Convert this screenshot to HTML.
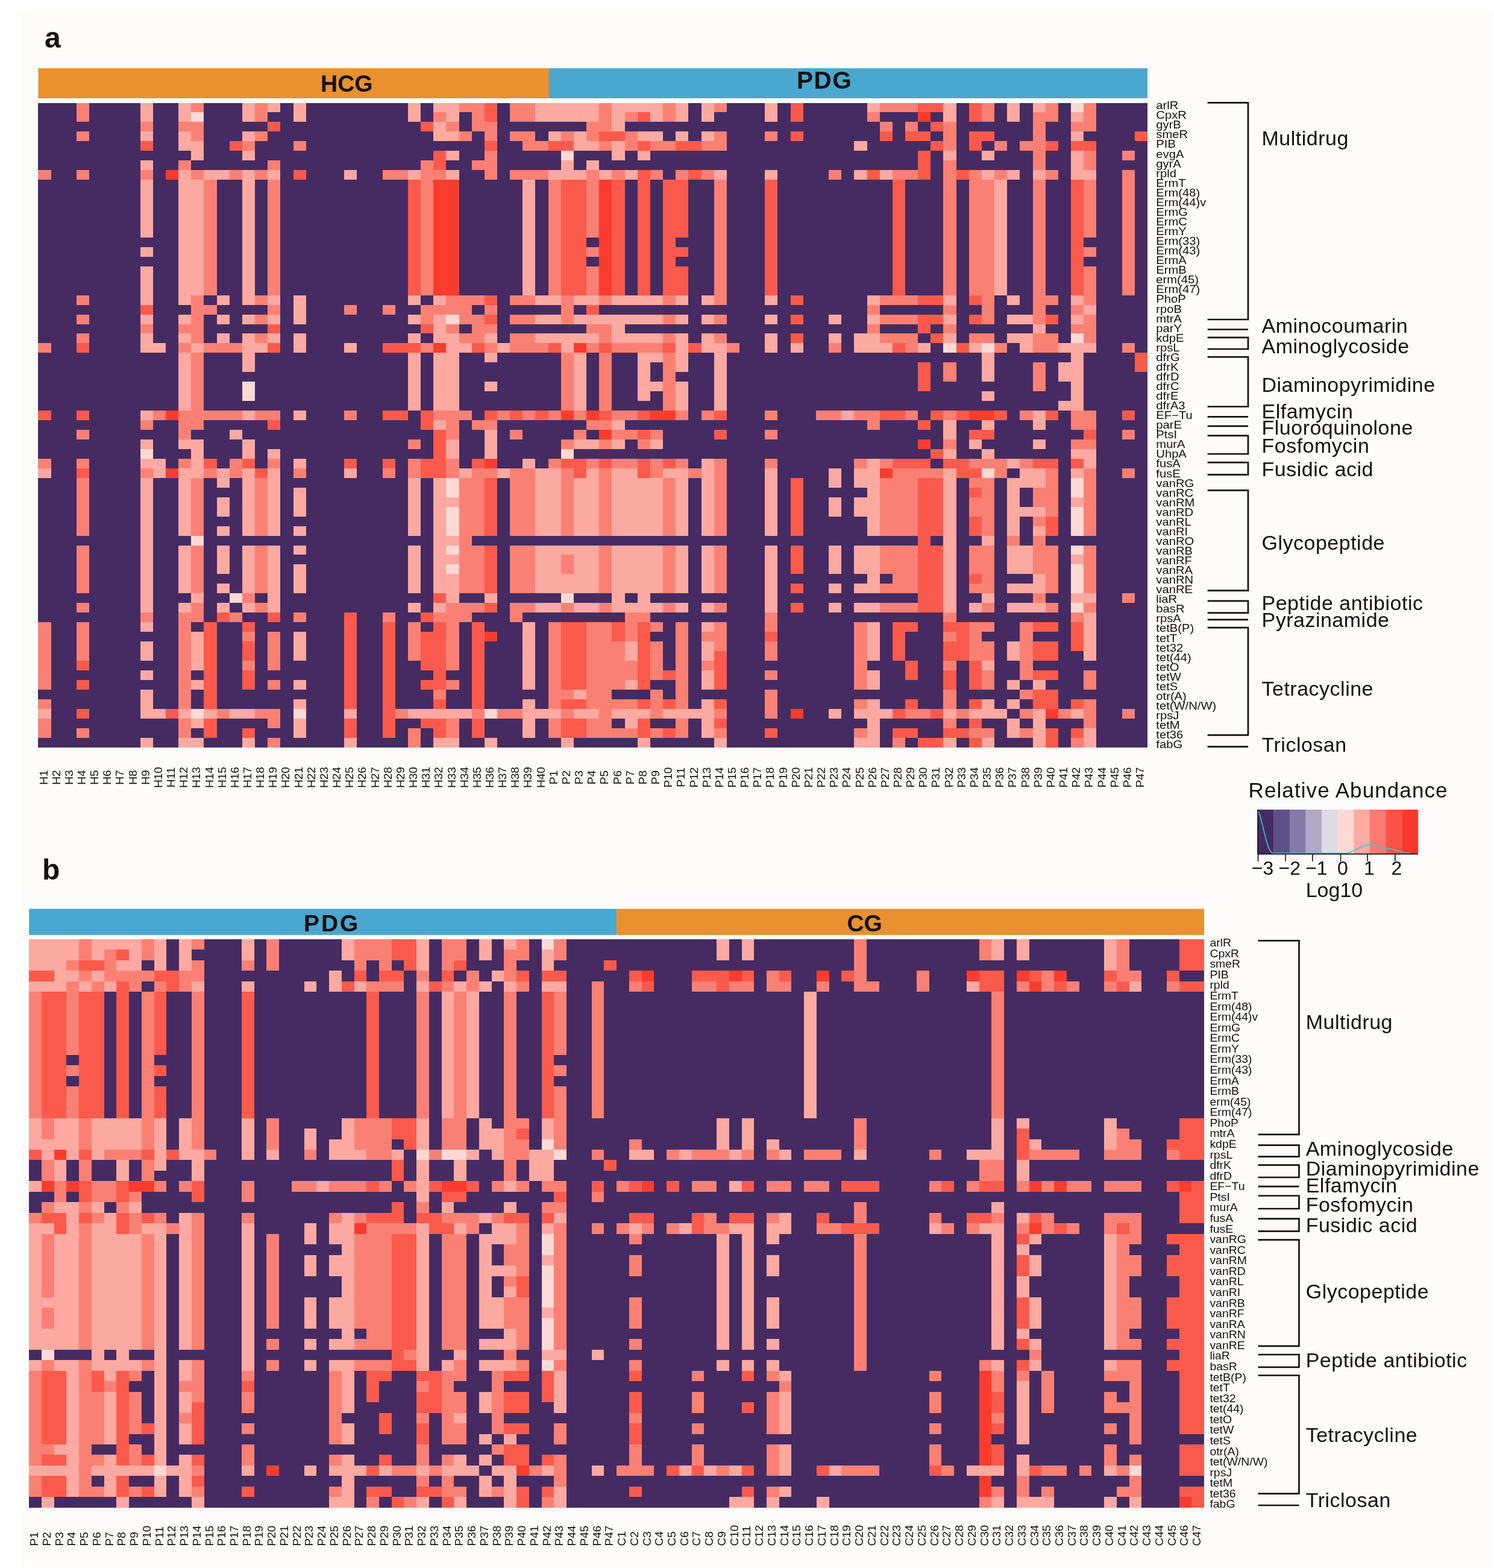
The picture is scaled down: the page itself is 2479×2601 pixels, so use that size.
<!DOCTYPE html><html><head><meta charset="utf-8"><title>Heatmap</title><style>html,body{margin:0;padding:0;background:#fff;}svg{display:block;}text{font-family:"Liberation Sans",Arial,sans-serif;fill:#141010;}</style></head><body>
<svg xmlns="http://www.w3.org/2000/svg" width="2479" height="2601" viewBox="0 0 2479 2601">
<rect width="2479" height="2601" fill="#ffffff"/>
<rect x="36" y="18.7" width="2439" height="2582" fill="#fdfcfa"/>
<text x="74" y="79" style="font-size:48px;font-weight:bold">a</text>
<rect x="63.4" y="113.2" width="847.6" height="49.8" fill="#e8912e"/>
<rect x="911.0" y="113.2" width="993.0" height="49.8" fill="#4aa7cf"/>
<text x="532" y="152" style="font-size:39px;font-weight:bold">HCG</text>
<text x="1322" y="147.2" style="font-size:40.5px;font-weight:bold;letter-spacing:1.5px">PDG</text>
<g transform="translate(63.40,170.50) scale(21.15632,15.95672)" shape-rendering="crispEdges">
<rect width="87" height="67" fill="#452b62"/>
<path fill="#fdd9d5" d="M8 36h1v1h-1zM12 1h1v1h-1zM12 45h1v1h-1zM12 63h1v1h-1zM15 51h1v1h-1zM16 29h1v2h-1zM20 63h1v1h-1zM32 22h1v1h-1zM32 39h1v2h-1zM32 42h1v3h-1zM32 46h1v1h-1zM32 48h1v1h-1zM35 63h1v1h-1zM41 5h1v1h-1zM41 36h1v1h-1zM41 51h1v1h-1zM71 25h1v1h-1zM74 25h1v1h-1zM74 38h1v1h-1zM81 0h1v1h-1zM81 24h1v1h-1zM81 39h1v2h-1zM81 42h1v3h-1zM81 46h1v1h-1zM81 48h1v3h-1zM81 52h1v1h-1z"/>
<path fill="#fca9a1" d="M0 38h1v1h-1zM0 63h1v1h-1zM8 0h1v2h-1zM8 3h1v1h-1zM8 6h1v1h-1zM8 8h1v6h-1zM8 15h1v1h-1zM8 17h1v4h-1zM8 22h1v1h-1zM8 24h1v2h-1zM8 32h1v1h-1zM8 35h1v1h-1zM8 37h1v1h-1zM8 39h1v14h-1zM8 54h1v1h-1zM8 56h1v2h-1zM8 59h1v1h-1zM8 61h1v3h-1zM8 66h1v1h-1zM9 25h1v1h-1zM9 37h1v2h-1zM9 63h1v1h-1zM11 0h1v2h-1zM11 3h1v2h-1zM11 7h1v14h-1zM11 22h1v1h-1zM11 24h1v1h-1zM11 26h1v6h-1zM11 35h1v1h-1zM11 38h1v7h-1zM11 46h1v5h-1zM11 52h1v1h-1zM11 63h1v1h-1zM11 66h1v1h-1zM12 4h1v2h-1zM12 8h1v12h-1zM12 25h1v1h-1zM12 35h1v4h-1zM12 51h1v1h-1zM12 55h1v4h-1zM12 60h1v1h-1zM12 64h1v1h-1zM12 66h1v1h-1zM13 7h1v1h-1zM13 63h1v1h-1zM14 7h1v1h-1zM14 20h1v1h-1zM14 22h1v1h-1zM14 24h1v1h-1zM14 38h1v2h-1zM14 41h1v2h-1zM14 44h1v1h-1zM14 46h1v3h-1zM14 50h1v1h-1zM14 52h1v1h-1zM15 34h1v1h-1zM15 63h1v1h-1zM16 0h1v2h-1zM16 3h1v1h-1zM16 5h1v1h-1zM16 7h1v14h-1zM16 22h1v1h-1zM16 24h1v4h-1zM16 32h1v1h-1zM16 35h1v2h-1zM16 38h1v7h-1zM16 46h1v5h-1zM16 52h1v1h-1zM16 63h1v1h-1zM16 66h1v1h-1zM17 25h1v1h-1zM18 0h1v1h-1zM18 7h1v1h-1zM18 20h1v1h-1zM18 22h1v1h-1zM18 24h1v1h-1zM18 36h1v1h-1zM18 38h1v7h-1zM18 46h1v7h-1zM20 0h1v2h-1zM20 20h1v3h-1zM20 24h1v2h-1zM20 32h1v1h-1zM20 37h1v1h-1zM20 40h1v3h-1zM20 44h1v1h-1zM20 46h1v1h-1zM20 48h1v3h-1zM20 55h1v3h-1zM20 60h1v1h-1zM20 62h1v1h-1zM20 64h1v2h-1zM24 7h1v1h-1zM24 25h1v1h-1zM24 38h1v1h-1zM24 63h1v1h-1zM24 66h1v1h-1zM29 0h1v2h-1zM29 7h1v1h-1zM29 20h1v1h-1zM29 22h1v1h-1zM29 24h1v1h-1zM29 26h1v6h-1zM29 39h1v6h-1zM29 46h1v5h-1zM29 52h1v1h-1zM29 63h1v1h-1zM30 63h1v1h-1zM31 0h1v1h-1zM31 2h1v2h-1zM31 20h1v1h-1zM31 22h1v3h-1zM31 26h1v6h-1zM31 33h1v1h-1zM31 39h1v12h-1zM31 52h1v1h-1zM31 63h1v1h-1zM31 66h1v1h-1zM32 0h1v2h-1zM32 3h1v1h-1zM32 5h1v1h-1zM32 7h1v1h-1zM32 24h1v8h-1zM32 35h1v2h-1zM32 41h1v1h-1zM32 45h1v1h-1zM32 47h1v1h-1zM32 49h1v3h-1zM32 63h1v1h-1zM32 66h1v1h-1zM33 25h1v1h-1zM33 38h1v1h-1zM33 63h1v1h-1zM35 24h1v1h-1zM35 26h1v1h-1zM35 29h1v1h-1zM35 34h1v3h-1zM35 51h1v1h-1zM35 66h1v1h-1zM36 25h1v1h-1zM36 38h1v1h-1zM38 8h1v12h-1zM38 37h1v1h-1zM38 54h1v7h-1zM38 62h1v4h-1zM39 0h1v2h-1zM39 20h1v1h-1zM39 22h1v1h-1zM39 24h1v1h-1zM39 38h1v7h-1zM39 46h1v5h-1zM39 52h1v1h-1zM39 63h1v1h-1zM40 0h1v2h-1zM40 3h1v1h-1zM40 7h1v1h-1zM40 20h1v1h-1zM40 22h1v1h-1zM40 24h1v1h-1zM40 38h1v7h-1zM40 46h1v5h-1zM40 52h1v1h-1zM40 63h1v1h-1zM41 0h1v2h-1zM41 6h1v2h-1zM41 24h1v2h-1zM41 46h1v1h-1zM41 49h1v2h-1zM41 66h1v1h-1zM42 0h1v2h-1zM42 3h1v2h-1zM42 7h1v1h-1zM42 20h1v1h-1zM42 22h1v1h-1zM42 24h1v1h-1zM42 26h1v6h-1zM42 35h1v1h-1zM42 39h1v6h-1zM42 46h1v5h-1zM42 52h1v1h-1zM42 61h1v1h-1zM42 63h1v1h-1zM43 0h1v2h-1zM43 4h1v1h-1zM43 6h1v1h-1zM43 20h1v1h-1zM43 22h1v1h-1zM43 24h1v1h-1zM43 35h1v1h-1zM43 38h1v7h-1zM43 46h1v5h-1zM43 52h1v1h-1zM43 63h1v1h-1zM44 7h1v1h-1zM44 22h1v1h-1zM45 0h1v3h-1zM45 4h1v2h-1zM45 20h1v1h-1zM45 22h1v3h-1zM45 33h1v1h-1zM45 35h1v1h-1zM45 38h1v7h-1zM45 46h1v7h-1zM45 63h1v1h-1zM46 0h1v1h-1zM46 7h1v1h-1zM46 20h1v1h-1zM46 22h1v1h-1zM46 24h1v1h-1zM46 38h1v7h-1zM46 46h1v5h-1zM46 52h1v1h-1zM46 56h1v2h-1zM46 60h1v1h-1zM46 63h1v2h-1zM47 0h1v1h-1zM47 3h1v1h-1zM47 5h1v1h-1zM47 20h1v1h-1zM47 22h1v1h-1zM47 24h1v1h-1zM47 26h1v5h-1zM47 39h1v6h-1zM47 46h1v7h-1zM47 63h1v1h-1zM47 66h1v1h-1zM48 0h1v2h-1zM48 3h1v1h-1zM48 20h1v1h-1zM48 22h1v1h-1zM48 24h1v1h-1zM48 26h1v1h-1zM48 29h1v1h-1zM48 35h1v1h-1zM48 39h1v6h-1zM48 46h1v5h-1zM48 52h1v1h-1zM49 38h1v1h-1zM49 63h1v1h-1zM50 0h1v2h-1zM50 3h1v1h-1zM50 20h1v1h-1zM50 22h1v1h-1zM50 24h1v4h-1zM50 29h1v3h-1zM50 38h1v7h-1zM50 46h1v5h-1zM50 52h1v1h-1zM50 63h1v1h-1zM51 63h1v1h-1zM52 0h1v2h-1zM52 3h1v1h-1zM52 20h1v1h-1zM52 22h1v1h-1zM52 24h1v2h-1zM52 37h1v8h-1zM52 46h1v5h-1zM52 52h1v1h-1zM52 54h1v1h-1zM52 56h1v2h-1zM52 59h1v2h-1zM52 62h1v4h-1zM53 7h1v1h-1zM53 25h1v7h-1zM53 66h1v1h-1zM57 0h1v2h-1zM57 7h1v1h-1zM57 20h1v1h-1zM57 22h1v1h-1zM57 24h1v2h-1zM57 38h1v7h-1zM57 46h1v7h-1zM59 25h1v1h-1zM62 22h1v1h-1zM62 24h1v1h-1zM62 38h1v2h-1zM62 41h1v2h-1zM62 46h1v3h-1zM62 50h1v1h-1zM62 52h1v1h-1zM62 63h1v1h-1zM63 32h1v1h-1zM64 4h1v1h-1zM64 7h1v1h-1zM64 24h1v2h-1zM64 38h1v2h-1zM64 41h1v2h-1zM64 46h1v3h-1zM64 50h1v1h-1zM64 52h1v1h-1zM64 63h1v1h-1zM64 66h1v1h-1zM65 0h1v1h-1zM65 20h1v1h-1zM65 22h1v1h-1zM65 24h1v2h-1zM65 37h1v8h-1zM65 46h1v5h-1zM65 52h1v1h-1zM65 54h1v4h-1zM65 59h1v2h-1zM65 62h1v5h-1zM66 7h1v1h-1zM66 25h1v1h-1zM66 63h1v1h-1zM69 25h1v1h-1zM71 0h1v2h-1zM71 5h1v1h-1zM71 20h1v1h-1zM71 22h1v1h-1zM71 24h1v1h-1zM71 33h1v2h-1zM71 36h1v1h-1zM71 38h1v15h-1zM71 63h1v1h-1zM71 66h1v1h-1zM73 25h1v1h-1zM73 35h1v1h-1zM73 52h1v1h-1zM73 63h1v1h-1zM74 5h1v1h-1zM74 7h1v1h-1zM74 26h1v3h-1zM74 30h1v1h-1zM74 33h1v1h-1zM74 36h1v1h-1zM74 45h1v1h-1zM74 51h1v1h-1zM74 58h1v1h-1zM74 62h1v2h-1zM74 66h1v1h-1zM75 8h1v12h-1zM75 63h1v1h-1zM76 0h1v2h-1zM76 7h1v1h-1zM76 20h1v1h-1zM76 22h1v1h-1zM76 24h1v1h-1zM76 37h1v1h-1zM76 39h1v6h-1zM76 46h1v3h-1zM76 50h1v1h-1zM76 52h1v1h-1zM76 56h1v2h-1zM76 60h1v1h-1zM76 62h1v1h-1zM76 64h1v2h-1zM77 22h1v1h-1zM77 24h1v2h-1zM77 38h1v2h-1zM77 42h1v1h-1zM77 46h1v3h-1zM77 50h1v1h-1zM77 52h1v1h-1zM78 0h1v1h-1zM78 7h1v1h-1zM78 23h1v1h-1zM78 32h1v2h-1zM78 35h1v1h-1zM78 38h1v2h-1zM78 42h1v1h-1zM78 44h1v1h-1zM78 49h1v2h-1zM78 52h1v1h-1zM78 60h1v1h-1zM78 63h1v4h-1zM80 25h1v1h-1zM80 27h1v2h-1zM80 31h1v1h-1zM81 1h1v1h-1zM81 3h1v1h-1zM81 5h1v3h-1zM81 20h1v1h-1zM81 22h1v1h-1zM81 25h1v7h-1zM81 36h1v1h-1zM81 38h1v1h-1zM81 41h1v1h-1zM81 47h1v1h-1zM81 51h1v1h-1zM81 63h1v1h-1zM82 7h1v1h-1zM82 21h1v1h-1zM82 25h1v1h-1zM82 36h1v2h-1zM82 51h1v1h-1zM82 53h1v5h-1zM82 65h1v2h-1z"/>
<path fill="#fb8074" d="M0 7h1v1h-1zM0 25h1v1h-1zM0 37h1v1h-1zM0 54h1v7h-1zM0 62h1v1h-1zM0 64h1v2h-1zM3 0h1v2h-1zM3 3h1v1h-1zM3 7h1v1h-1zM3 20h1v1h-1zM3 22h1v1h-1zM3 24h1v1h-1zM3 34h1v1h-1zM3 37h1v1h-1zM3 39h1v6h-1zM3 46h1v5h-1zM3 52h1v1h-1zM3 54h1v4h-1zM3 65h1v1h-1zM8 2h1v1h-1zM8 7h1v1h-1zM8 23h1v1h-1zM8 33h1v1h-1zM8 38h1v1h-1zM8 53h1v1h-1zM9 32h1v1h-1zM11 2h1v1h-1zM11 6h1v1h-1zM11 23h1v1h-1zM11 25h1v1h-1zM11 32h1v3h-1zM11 37h1v1h-1zM11 53h1v10h-1zM11 64h1v2h-1zM12 0h1v1h-1zM12 2h1v2h-1zM12 7h1v1h-1zM12 20h1v5h-1zM12 26h1v8h-1zM12 39h1v6h-1zM12 46h1v5h-1zM12 52h1v2h-1zM13 8h1v12h-1zM13 21h1v1h-1zM13 25h1v1h-1zM13 32h1v1h-1zM13 38h1v1h-1zM14 25h1v1h-1zM14 32h1v1h-1zM14 63h1v1h-1zM15 7h1v1h-1zM15 25h1v1h-1zM15 32h1v1h-1zM15 37h1v2h-1zM15 53h1v1h-1zM16 4h1v1h-1zM16 51h1v1h-1zM16 55h1v1h-1zM16 58h1v1h-1zM17 0h1v2h-1zM17 3h1v1h-1zM17 7h1v1h-1zM17 20h1v1h-1zM17 22h1v1h-1zM17 24h1v1h-1zM17 32h1v1h-1zM17 39h1v6h-1zM17 46h1v5h-1zM17 52h1v1h-1zM17 63h1v1h-1zM18 6h1v1h-1zM18 8h1v12h-1zM18 21h1v1h-1zM18 32h1v1h-1zM18 37h1v1h-1zM18 55h1v4h-1zM18 60h1v1h-1zM18 63h1v2h-1zM18 66h1v1h-1zM20 4h1v1h-1zM20 38h1v1h-1zM20 53h1v1h-1zM24 21h1v1h-1zM24 32h1v1h-1zM27 7h1v1h-1zM27 21h1v1h-1zM27 38h1v1h-1zM27 53h1v1h-1zM28 7h1v1h-1zM28 63h1v1h-1zM29 35h1v1h-1zM29 37h1v2h-1zM29 54h1v4h-1zM29 65h1v2h-1zM30 6h1v14h-1zM30 21h1v2h-1zM30 25h1v1h-1zM31 1h1v1h-1zM31 7h1v1h-1zM31 21h1v1h-1zM31 32h1v1h-1zM31 53h1v1h-1zM31 61h1v1h-1zM32 2h1v1h-1zM32 20h1v2h-1zM32 23h1v1h-1zM32 32h1v3h-1zM32 37h1v2h-1zM32 52h1v7h-1zM32 60h1v1h-1zM32 64h1v2h-1zM33 0h1v1h-1zM33 3h1v1h-1zM33 20h1v3h-1zM33 24h1v1h-1zM33 32h1v1h-1zM33 39h1v12h-1zM33 52h1v2h-1zM34 0h1v3h-1zM34 6h1v1h-1zM34 20h1v1h-1zM34 22h1v3h-1zM34 33h1v1h-1zM34 38h1v7h-1zM34 46h1v5h-1zM34 52h1v1h-1zM34 63h1v1h-1zM35 2h1v2h-1zM35 5h1v3h-1zM35 21h1v1h-1zM35 23h1v1h-1zM35 25h1v1h-1zM35 33h1v1h-1zM35 38h1v1h-1zM36 32h1v1h-1zM36 63h1v1h-1zM37 0h1v2h-1zM37 3h1v1h-1zM37 7h1v1h-1zM37 20h1v1h-1zM37 22h1v1h-1zM37 24h1v2h-1zM37 34h1v1h-1zM37 38h1v7h-1zM37 46h1v5h-1zM37 52h1v2h-1zM37 63h1v1h-1zM38 0h1v2h-1zM38 3h1v2h-1zM38 7h1v1h-1zM38 20h1v1h-1zM38 22h1v1h-1zM38 24h1v2h-1zM38 32h1v1h-1zM38 38h1v7h-1zM38 46h1v5h-1zM38 52h1v1h-1zM39 4h1v1h-1zM39 7h1v1h-1zM39 25h1v1h-1zM40 8h1v12h-1zM40 32h1v1h-1zM40 37h1v1h-1zM40 54h1v9h-1zM40 64h1v2h-1zM41 3h1v1h-1zM41 20h1v3h-1zM41 26h1v6h-1zM41 35h1v1h-1zM41 38h1v7h-1zM41 47h1v2h-1zM41 52h1v1h-1zM41 61h1v1h-1zM41 63h1v1h-1zM42 32h1v1h-1zM42 34h1v1h-1zM43 2h1v2h-1zM43 7h1v7h-1zM43 15h1v1h-1zM43 17h1v3h-1zM43 23h1v1h-1zM43 25h1v1h-1zM43 33h1v1h-1zM43 37h1v1h-1zM43 54h1v9h-1zM43 64h1v2h-1zM44 0h1v3h-1zM44 4h1v1h-1zM44 20h1v1h-1zM44 23h1v2h-1zM44 26h1v6h-1zM44 33h1v1h-1zM44 35h1v1h-1zM44 38h1v7h-1zM44 46h1v5h-1zM44 52h1v1h-1zM44 54h1v12h-1zM45 7h1v1h-1zM45 25h1v1h-1zM45 32h1v1h-1zM45 34h1v1h-1zM45 37h1v1h-1zM45 56h1v5h-1zM45 62h1v1h-1zM45 65h1v1h-1zM46 1h1v1h-1zM46 3h1v2h-1zM46 25h1v1h-1zM46 32h1v1h-1zM46 34h1v1h-1zM46 37h1v1h-1zM46 53h1v3h-1zM46 58h1v2h-1zM46 62h1v1h-1zM46 65h1v1h-1zM47 25h1v1h-1zM47 35h1v1h-1zM47 53h1v1h-1zM48 4h1v1h-1zM48 7h1v1h-1zM48 25h1v1h-1zM48 34h1v1h-1zM48 37h1v2h-1zM48 54h1v1h-1zM48 56h1v4h-1zM48 61h1v3h-1zM48 65h1v1h-1zM49 0h1v2h-1zM49 4h1v1h-1zM49 20h1v1h-1zM49 22h1v1h-1zM49 24h1v1h-1zM49 26h1v6h-1zM49 39h1v6h-1zM49 46h1v5h-1zM49 52h1v1h-1zM50 7h1v1h-1zM50 32h1v1h-1zM50 37h1v1h-1zM50 54h1v9h-1zM50 64h1v2h-1zM51 38h1v1h-1zM52 4h1v1h-1zM52 7h1v1h-1zM52 32h1v1h-1zM52 55h1v1h-1zM52 58h1v1h-1zM53 0h1v1h-1zM53 3h1v2h-1zM53 8h1v13h-1zM53 22h1v1h-1zM53 24h1v1h-1zM53 37h1v8h-1zM53 46h1v5h-1zM53 52h1v1h-1zM53 54h1v3h-1zM53 63h1v1h-1zM53 65h1v1h-1zM54 25h1v1h-1zM57 3h1v1h-1zM57 32h1v1h-1zM57 34h1v1h-1zM57 37h1v1h-1zM57 53h1v2h-1zM57 56h1v2h-1zM57 59h1v1h-1zM57 61h1v3h-1zM61 32h1v1h-1zM62 7h1v1h-1zM62 25h1v1h-1zM62 32h1v1h-1zM64 32h1v1h-1zM64 37h1v1h-1zM64 54h1v7h-1zM64 62h1v1h-1zM64 65h1v1h-1zM65 1h1v1h-1zM65 21h1v1h-1zM65 23h1v1h-1zM65 32h1v2h-1zM66 0h1v1h-1zM66 2h1v1h-1zM66 20h1v1h-1zM66 22h1v1h-1zM66 24h1v1h-1zM66 37h1v1h-1zM66 39h1v6h-1zM66 46h1v3h-1zM66 50h1v1h-1zM66 52h1v1h-1zM67 0h1v1h-1zM67 7h1v1h-1zM67 20h1v1h-1zM67 22h1v1h-1zM67 24h1v1h-1zM67 38h1v7h-1zM67 46h1v5h-1zM67 52h1v1h-1zM67 66h1v1h-1zM68 0h1v1h-1zM68 2h1v1h-1zM68 7h1v1h-1zM68 20h1v1h-1zM68 22h1v1h-1zM68 24h1v2h-1zM68 32h1v1h-1zM68 38h1v7h-1zM68 46h1v5h-1zM68 52h1v1h-1zM68 63h1v1h-1zM69 38h1v1h-1zM69 63h1v1h-1zM70 38h1v1h-1zM71 2h1v3h-1zM71 6h1v14h-1zM71 21h1v1h-1zM71 23h1v1h-1zM71 27h1v2h-1zM71 32h1v1h-1zM71 35h1v1h-1zM71 53h1v1h-1zM71 55h1v1h-1zM71 58h1v1h-1zM71 61h1v2h-1zM71 64h1v1h-1zM72 63h1v1h-1zM73 7h1v13h-1zM73 24h1v1h-1zM73 37h1v1h-1zM73 39h1v1h-1zM73 41h1v2h-1zM73 46h1v3h-1zM73 50h1v1h-1zM73 54h1v4h-1zM73 65h1v1h-1zM74 0h1v2h-1zM74 8h1v15h-1zM74 24h1v1h-1zM74 37h1v1h-1zM74 39h1v6h-1zM74 46h1v5h-1zM74 52h1v1h-1zM74 54h1v1h-1zM74 56h1v2h-1zM74 59h1v2h-1zM74 65h1v1h-1zM75 4h1v1h-1zM75 7h1v1h-1zM75 25h1v1h-1zM75 37h1v2h-1zM76 45h1v1h-1zM77 4h1v1h-1zM77 32h1v1h-1zM77 37h1v1h-1zM77 54h1v6h-1zM77 61h1v1h-1zM77 63h1v1h-1zM77 65h1v1h-1zM78 1h1v6h-1zM78 8h1v15h-1zM78 24h1v2h-1zM78 27h1v3h-1zM78 40h1v2h-1zM78 43h1v1h-1zM78 45h1v4h-1zM78 51h1v1h-1zM79 0h1v2h-1zM79 7h1v1h-1zM79 20h1v1h-1zM79 24h1v2h-1zM79 38h1v5h-1zM79 46h1v5h-1zM79 52h1v1h-1zM80 63h1v1h-1zM81 2h1v1h-1zM81 21h1v1h-1zM81 23h1v1h-1zM81 32h1v2h-1zM81 35h1v1h-1zM81 53h1v1h-1zM81 66h1v1h-1zM82 0h1v3h-1zM82 5h1v2h-1zM82 8h1v6h-1zM82 15h1v1h-1zM82 17h1v4h-1zM82 22h1v3h-1zM82 32h1v2h-1zM82 35h1v1h-1zM82 38h1v7h-1zM82 46h1v5h-1zM82 52h1v1h-1zM82 59h1v2h-1zM82 62h1v3h-1zM85 5h1v1h-1zM85 7h1v13h-1zM85 25h1v1h-1zM85 34h1v1h-1zM85 38h1v1h-1zM85 51h1v1h-1zM85 63h1v1h-1z"/>
<path fill="#fa5a4b" d="M0 32h1v1h-1zM3 25h1v1h-1zM3 32h1v1h-1zM3 38h1v1h-1zM3 58h1v1h-1zM3 60h1v1h-1zM3 63h1v1h-1zM8 4h1v1h-1zM8 21h1v1h-1zM10 63h1v1h-1zM13 37h1v1h-1zM13 54h1v9h-1zM13 64h1v2h-1zM14 53h1v1h-1zM15 4h1v1h-1zM16 37h1v1h-1zM16 54h1v1h-1zM16 56h1v2h-1zM16 59h1v2h-1zM16 65h1v1h-1zM17 38h1v1h-1zM18 2h1v1h-1zM18 23h1v1h-1zM18 25h1v1h-1zM18 33h1v1h-1zM18 53h1v1h-1zM20 7h1v1h-1zM24 37h1v1h-1zM24 53h1v10h-1zM24 64h1v2h-1zM27 25h1v1h-1zM27 32h1v1h-1zM27 37h1v1h-1zM27 54h1v12h-1zM28 25h1v1h-1zM28 32h1v1h-1zM29 8h1v12h-1zM29 25h1v1h-1zM30 2h1v1h-1zM30 23h1v1h-1zM30 32h1v2h-1zM30 37h1v2h-1zM30 53h1v1h-1zM30 55h1v4h-1zM30 60h1v1h-1zM30 64h1v1h-1zM31 5h1v2h-1zM31 34h1v5h-1zM31 51h1v1h-1zM31 54h1v7h-1zM31 62h1v1h-1zM31 64h1v2h-1zM34 25h1v1h-1zM34 37h1v1h-1zM34 54h1v9h-1zM34 64h1v2h-1zM35 0h1v2h-1zM35 4h1v1h-1zM35 20h1v1h-1zM35 22h1v1h-1zM35 32h1v1h-1zM35 39h1v6h-1zM35 46h1v5h-1zM35 52h1v1h-1zM37 32h1v1h-1zM39 32h1v1h-1zM40 4h1v1h-1zM40 25h1v1h-1zM41 4h1v1h-1zM41 8h1v12h-1zM41 37h1v1h-1zM41 54h1v7h-1zM41 62h1v1h-1zM41 64h1v2h-1zM42 8h1v12h-1zM42 37h1v2h-1zM42 54h1v7h-1zM42 62h1v1h-1zM42 64h1v2h-1zM43 21h1v1h-1zM44 3h1v1h-1zM44 25h1v1h-1zM44 32h1v1h-1zM44 37h1v1h-1zM45 3h1v1h-1zM45 8h1v12h-1zM45 54h1v2h-1zM47 1h1v1h-1zM47 4h1v1h-1zM47 7h1v13h-1zM47 32h1v1h-1zM47 34h1v1h-1zM47 37h1v2h-1zM47 54h1v7h-1zM47 62h1v1h-1zM47 64h1v2h-1zM49 8h1v12h-1zM49 25h1v1h-1zM49 37h1v1h-1zM49 59h1v1h-1zM49 62h1v1h-1zM49 65h1v1h-1zM50 4h1v1h-1zM50 8h1v6h-1zM50 15h1v1h-1zM50 17h1v3h-1zM51 4h1v1h-1zM51 7h1v1h-1zM51 25h1v1h-1zM53 32h1v1h-1zM53 34h1v1h-1zM53 57h1v4h-1zM53 62h1v1h-1zM53 64h1v1h-1zM57 8h1v12h-1zM57 55h1v1h-1zM57 65h1v1h-1zM59 0h1v2h-1zM59 3h1v1h-1zM59 20h1v1h-1zM59 22h1v1h-1zM59 24h1v1h-1zM59 39h1v6h-1zM59 46h1v3h-1zM59 50h1v1h-1zM59 52h1v1h-1zM65 7h1v1h-1zM66 3h1v1h-1zM66 32h1v1h-1zM67 8h1v12h-1zM67 25h1v1h-1zM67 32h1v1h-1zM67 37h1v1h-1zM67 54h1v4h-1zM67 63h1v1h-1zM67 65h1v1h-1zM68 3h1v1h-1zM68 37h1v1h-1zM68 54h1v1h-1zM68 58h1v2h-1zM68 62h1v1h-1zM68 65h1v1h-1zM69 0h1v1h-1zM69 3h1v1h-1zM69 5h1v3h-1zM69 20h1v1h-1zM69 22h1v2h-1zM69 27h1v3h-1zM69 33h1v1h-1zM69 37h1v1h-1zM69 39h1v14h-1zM69 66h1v1h-1zM70 0h1v1h-1zM70 2h1v1h-1zM70 4h1v1h-1zM70 20h1v1h-1zM70 22h1v1h-1zM70 24h1v1h-1zM70 32h1v1h-1zM70 36h1v1h-1zM70 39h1v6h-1zM70 46h1v7h-1zM70 63h1v1h-1zM70 66h1v1h-1zM71 37h1v1h-1zM71 54h1v1h-1zM71 56h1v2h-1zM71 59h1v2h-1zM71 65h1v1h-1zM72 7h1v1h-1zM72 25h1v1h-1zM72 32h1v1h-1zM72 37h1v2h-1zM72 54h1v4h-1zM72 65h1v1h-1zM73 0h1v2h-1zM73 3h1v2h-1zM73 20h1v1h-1zM73 22h1v1h-1zM73 34h1v1h-1zM73 38h1v1h-1zM73 40h1v1h-1zM73 43h1v2h-1zM73 49h1v1h-1zM73 58h1v3h-1zM73 62h1v1h-1zM73 64h1v1h-1zM73 66h1v1h-1zM74 3h1v1h-1zM74 34h1v1h-1zM75 32h1v1h-1zM78 37h1v1h-1zM78 54h1v1h-1zM78 56h1v2h-1zM78 59h1v1h-1zM78 61h1v2h-1zM79 4h1v1h-1zM79 22h1v1h-1zM79 32h1v1h-1zM79 37h1v1h-1zM79 43h1v2h-1zM79 54h1v1h-1zM79 56h1v2h-1zM79 59h1v1h-1zM79 61h1v2h-1zM79 65h1v2h-1zM81 4h1v1h-1zM81 8h1v12h-1zM81 37h1v1h-1zM81 54h1v3h-1zM81 62h1v1h-1zM81 65h1v1h-1zM82 4h1v1h-1zM82 34h1v1h-1zM85 32h1v1h-1zM86 3h1v1h-1zM86 26h1v2h-1z"/>
<path fill="#f93c2d" d="M10 7h1v1h-1zM10 32h1v1h-1zM10 38h1v1h-1zM31 8h1v12h-1zM31 25h1v1h-1zM32 8h1v12h-1zM35 37h1v1h-1zM35 55h1v1h-1zM41 32h1v1h-1zM42 25h1v1h-1zM43 32h1v1h-1zM44 8h1v12h-1zM44 34h1v1h-1zM48 32h1v1h-1zM49 32h1v1h-1zM59 63h1v1h-1zM66 38h1v1h-1zM69 1h1v1h-1zM69 35h1v1h-1zM73 32h1v1h-1zM74 32h1v1h-1zM79 63h1v1h-1z"/>
</g>
<g transform="translate(1918.3,0) scale(1.130,1)" style="font-size:17.9px"><text x="0" y="181.3">arlR</text><text x="0" y="197.4">CpxR</text><text x="0" y="213.4">gyrB</text><text x="0" y="229.5">smeR</text><text x="0" y="245.5">PIB</text><text x="0" y="261.6">evgA</text><text x="0" y="277.7">gyrA</text><text x="0" y="293.7">rpld</text><text x="0" y="309.8">ErmT</text><text x="0" y="325.8">Erm(48)</text><text x="0" y="341.9">Erm(44)v</text><text x="0" y="358.0">ErmG</text><text x="0" y="374.0">ErmC</text><text x="0" y="390.1">ErmY</text><text x="0" y="406.1">Erm(33)</text><text x="0" y="422.2">Erm(43)</text><text x="0" y="438.3">ErmA</text><text x="0" y="454.3">ErmB</text><text x="0" y="470.4">erm(45)</text><text x="0" y="486.4">Erm(47)</text><text x="0" y="502.5">PhoP</text><text x="0" y="518.6">rpoB</text><text x="0" y="534.6">mtrA</text><text x="0" y="550.7">parY</text><text x="0" y="566.7">kdpE</text><text x="0" y="582.8">rpsL</text><text x="0" y="598.9">dfrG</text><text x="0" y="614.9">dfrK</text><text x="0" y="631.0">dfrD</text><text x="0" y="647.0">dfrC</text><text x="0" y="663.1">dfrE</text><text x="0" y="679.2">dfrA3</text><text x="0" y="695.2">EF−Tu</text><text x="0" y="711.3">parE</text><text x="0" y="727.3">PtsI</text><text x="0" y="743.4">murA</text><text x="0" y="759.5">UhpA</text><text x="0" y="775.5">fusA</text><text x="0" y="791.6">fusE</text><text x="0" y="807.6">vanRG</text><text x="0" y="823.7">vanRC</text><text x="0" y="839.8">vanRM</text><text x="0" y="855.8">vanRD</text><text x="0" y="871.9">vanRL</text><text x="0" y="887.9">vanRI</text><text x="0" y="904.0">vanRO</text><text x="0" y="920.1">vanRB</text><text x="0" y="936.1">vanRF</text><text x="0" y="952.2">vanRA</text><text x="0" y="968.2">vanRN</text><text x="0" y="984.3">vanRE</text><text x="0" y="1000.4">liaR</text><text x="0" y="1016.4">basR</text><text x="0" y="1032.5">rpsA</text><text x="0" y="1048.5">tetB(P)</text><text x="0" y="1064.6">tetT</text><text x="0" y="1080.7">tet32</text><text x="0" y="1096.7">tet(44)</text><text x="0" y="1112.8">tetO</text><text x="0" y="1128.8">tetW</text><text x="0" y="1144.9">tetS</text><text x="0" y="1161.0">otr(A)</text><text x="0" y="1177.0">tet(W/N/W)</text><text x="0" y="1193.1">rpsJ</text><text x="0" y="1209.1">tetM</text><text x="0" y="1225.2">tet36</text><text x="0" y="1241.3">fabG</text></g>
<g style="font-size:19px" text-anchor="middle"><text transform="translate(78.5,1289.5) rotate(-90)">H1</text><text transform="translate(99.6,1289.5) rotate(-90)">H2</text><text transform="translate(120.8,1289.5) rotate(-90)">H3</text><text transform="translate(141.9,1289.5) rotate(-90)">H4</text><text transform="translate(163.1,1289.5) rotate(-90)">H5</text><text transform="translate(184.3,1289.5) rotate(-90)">H6</text><text transform="translate(205.4,1289.5) rotate(-90)">H7</text><text transform="translate(226.6,1289.5) rotate(-90)">H8</text><text transform="translate(247.7,1289.5) rotate(-90)">H9</text><text transform="translate(268.9,1289.5) rotate(-90)">H10</text><text transform="translate(290.0,1289.5) rotate(-90)">H11</text><text transform="translate(311.2,1289.5) rotate(-90)">H12</text><text transform="translate(332.4,1289.5) rotate(-90)">H13</text><text transform="translate(353.5,1289.5) rotate(-90)">H14</text><text transform="translate(374.7,1289.5) rotate(-90)">H15</text><text transform="translate(395.8,1289.5) rotate(-90)">H16</text><text transform="translate(417.0,1289.5) rotate(-90)">H17</text><text transform="translate(438.1,1289.5) rotate(-90)">H18</text><text transform="translate(459.3,1289.5) rotate(-90)">H19</text><text transform="translate(480.4,1289.5) rotate(-90)">H20</text><text transform="translate(501.6,1289.5) rotate(-90)">H21</text><text transform="translate(522.8,1289.5) rotate(-90)">H22</text><text transform="translate(543.9,1289.5) rotate(-90)">H23</text><text transform="translate(565.1,1289.5) rotate(-90)">H24</text><text transform="translate(586.2,1289.5) rotate(-90)">H25</text><text transform="translate(607.4,1289.5) rotate(-90)">H26</text><text transform="translate(628.5,1289.5) rotate(-90)">H27</text><text transform="translate(649.7,1289.5) rotate(-90)">H28</text><text transform="translate(670.9,1289.5) rotate(-90)">H29</text><text transform="translate(692.0,1289.5) rotate(-90)">H30</text><text transform="translate(713.2,1289.5) rotate(-90)">H31</text><text transform="translate(734.3,1289.5) rotate(-90)">H32</text><text transform="translate(755.5,1289.5) rotate(-90)">H33</text><text transform="translate(776.6,1289.5) rotate(-90)">H34</text><text transform="translate(797.8,1289.5) rotate(-90)">H35</text><text transform="translate(818.9,1289.5) rotate(-90)">H36</text><text transform="translate(840.1,1289.5) rotate(-90)">H37</text><text transform="translate(861.3,1289.5) rotate(-90)">H38</text><text transform="translate(882.4,1289.5) rotate(-90)">H39</text><text transform="translate(903.6,1289.5) rotate(-90)">H40</text><text transform="translate(924.7,1289.5) rotate(-90)">P1</text><text transform="translate(945.9,1289.5) rotate(-90)">P2</text><text transform="translate(967.0,1289.5) rotate(-90)">P3</text><text transform="translate(988.2,1289.5) rotate(-90)">P4</text><text transform="translate(1009.4,1289.5) rotate(-90)">P5</text><text transform="translate(1030.5,1289.5) rotate(-90)">P6</text><text transform="translate(1051.7,1289.5) rotate(-90)">P7</text><text transform="translate(1072.8,1289.5) rotate(-90)">P8</text><text transform="translate(1094.0,1289.5) rotate(-90)">P9</text><text transform="translate(1115.1,1289.5) rotate(-90)">P10</text><text transform="translate(1136.3,1289.5) rotate(-90)">P11</text><text transform="translate(1157.5,1289.5) rotate(-90)">P12</text><text transform="translate(1178.6,1289.5) rotate(-90)">P13</text><text transform="translate(1199.8,1289.5) rotate(-90)">P14</text><text transform="translate(1220.9,1289.5) rotate(-90)">P15</text><text transform="translate(1242.1,1289.5) rotate(-90)">P16</text><text transform="translate(1263.2,1289.5) rotate(-90)">P17</text><text transform="translate(1284.4,1289.5) rotate(-90)">P18</text><text transform="translate(1305.5,1289.5) rotate(-90)">P19</text><text transform="translate(1326.7,1289.5) rotate(-90)">P20</text><text transform="translate(1347.9,1289.5) rotate(-90)">P21</text><text transform="translate(1369.0,1289.5) rotate(-90)">P22</text><text transform="translate(1390.2,1289.5) rotate(-90)">P23</text><text transform="translate(1411.3,1289.5) rotate(-90)">P24</text><text transform="translate(1432.5,1289.5) rotate(-90)">P25</text><text transform="translate(1453.6,1289.5) rotate(-90)">P26</text><text transform="translate(1474.8,1289.5) rotate(-90)">P27</text><text transform="translate(1496.0,1289.5) rotate(-90)">P28</text><text transform="translate(1517.1,1289.5) rotate(-90)">P29</text><text transform="translate(1538.3,1289.5) rotate(-90)">P30</text><text transform="translate(1559.4,1289.5) rotate(-90)">P31</text><text transform="translate(1580.6,1289.5) rotate(-90)">P32</text><text transform="translate(1601.7,1289.5) rotate(-90)">P33</text><text transform="translate(1622.9,1289.5) rotate(-90)">P34</text><text transform="translate(1644.0,1289.5) rotate(-90)">P35</text><text transform="translate(1665.2,1289.5) rotate(-90)">P36</text><text transform="translate(1686.4,1289.5) rotate(-90)">P37</text><text transform="translate(1707.5,1289.5) rotate(-90)">P38</text><text transform="translate(1728.7,1289.5) rotate(-90)">P39</text><text transform="translate(1749.8,1289.5) rotate(-90)">P40</text><text transform="translate(1771.0,1289.5) rotate(-90)">P41</text><text transform="translate(1792.1,1289.5) rotate(-90)">P42</text><text transform="translate(1813.3,1289.5) rotate(-90)">P43</text><text transform="translate(1834.5,1289.5) rotate(-90)">P44</text><text transform="translate(1855.6,1289.5) rotate(-90)">P45</text><text transform="translate(1876.8,1289.5) rotate(-90)">P46</text><text transform="translate(1897.9,1289.5) rotate(-90)">P47</text></g>
<path fill="none" stroke="#141010" stroke-width="2.7" d="M2003.7 170.3H2071.0V530.0H2003.7M2003.7 546.5H2071.0M2003.7 559.9H2071.0V579.0H2003.7M2003.7 592.2H2071.0V674.5H2003.7M2003.7 691.3H2071.0M2003.7 706.9H2071.0M2003.7 722.6H2071.0V753.0H2003.7M2003.7 767.1H2071.0V787.3H2003.7M2003.7 813.4H2071.0V979.7H2003.7M2003.7 996.8H2071.0V1016.6H2003.7M2003.7 1027.9H2071.0M2003.7 1041.2H2071.0V1219.4H2003.7M2003.7 1238.6H2071.0"/>
<g style="font-size:34px;letter-spacing:0.5px"><text x="2093.5" y="241.3">Multidrug</text><text x="2093.5" y="551.6">Aminocoumarin</text><text x="2093.5" y="586.0">Aminoglycoside</text><text x="2093.5" y="650.4">Diaminopyrimidine</text><text x="2093.5" y="694.2">Elfamycin</text><text x="2093.5" y="721.4">Fluoroquinolone</text><text x="2093.5" y="751.3">Fosfomycin</text><text x="2093.5" y="789.9">Fusidic acid</text><text x="2093.5" y="911.8">Glycopeptide</text><text x="2093.5" y="1012.1">Peptide antibiotic</text><text x="2093.5" y="1040.0">Pyrazinamide</text><text x="2093.5" y="1153.7">Tetracycline</text><text x="2093.5" y="1247.0">Triclosan</text></g>
<rect x="2086.60" y="1343.0" width="26.92" height="73.6" fill="#452b62"/>
<rect x="2113.22" y="1343.0" width="26.92" height="73.6" fill="#5c5189"/>
<rect x="2139.84" y="1343.0" width="26.92" height="73.6" fill="#8479a8"/>
<rect x="2166.46" y="1343.0" width="26.92" height="73.6" fill="#b0a8c6"/>
<rect x="2193.08" y="1343.0" width="26.92" height="73.6" fill="#dedbe7"/>
<rect x="2219.70" y="1343.0" width="26.92" height="73.6" fill="#fdd8d5"/>
<rect x="2246.32" y="1343.0" width="26.92" height="73.6" fill="#fdaaa3"/>
<rect x="2272.94" y="1343.0" width="26.92" height="73.6" fill="#fc7b70"/>
<rect x="2299.56" y="1343.0" width="26.92" height="73.6" fill="#fb5447"/>
<rect x="2326.18" y="1343.0" width="26.92" height="73.6" fill="#f93a2b"/>
<polyline fill="none" stroke="#3fc6d1" stroke-width="1.6" stroke-linejoin="round" points="2088.0,1346.2 2090.9,1352.9 2093.7,1364.4 2097.6,1379.8 2101.4,1395.1 2105.2,1406.7 2109.1,1413.4 2112.0,1415.3 2235.7,1415.3 2243.4,1412.4 2254.9,1406.7 2266.4,1401.9 2273.2,1400.9 2279.9,1401.9 2289.5,1405.7 2295.2,1406.7 2304.8,1407.6 2312.5,1409.0 2320.2,1411.5 2327.8,1414.3 2339.4,1415.3"/>
<path fill="none" stroke="#141010" stroke-width="1.6" d="M2086.6 1416.6H2352.8M2087.1 1343.0V1416.6M2087.6 1416.6V1428.7M2133.0 1416.6V1428.7M2177.8 1416.6V1428.7M2224.6 1416.6V1428.7M2269.0 1416.6V1428.7M2314.8 1416.6V1428.7"/>
<g style="font-size:32px" text-anchor="middle"><text x="2095.0" y="1450.8">−3</text><text x="2139.8" y="1450.8">−2</text><text x="2184.4" y="1450.8">−1</text><text x="2228.0" y="1450.8">0</text><text x="2272.0" y="1450.8">1</text><text x="2317.4" y="1450.8">2</text></g>
<text x="2071.5" y="1323.2" style="font-size:35px;letter-spacing:1.1px">Relative Abundance</text>
<text x="2166.7" y="1488.2" style="font-size:34px">Log10</text>
<text x="70" y="1459" style="font-size:48px;font-weight:bold">b</text>
<rect x="48.2" y="1507.6" width="974.9" height="43.3" fill="#4aa7cf"/>
<rect x="1023.1" y="1507.6" width="974.9" height="43.3" fill="#e8912e"/>
<text x="503.9" y="1545.3" style="font-size:39px;font-weight:bold;letter-spacing:3px">PDG</text>
<text x="1405.4" y="1544.9" style="font-size:39px;font-weight:bold">CG</text>
<g transform="translate(48.20,1557.70) scale(20.74255,17.46481)" shape-rendering="crispEdges">
<rect width="94" height="54" fill="#452b62"/>
<path fill="#fdd9d5" d="M1 39h1v1h-1zM10 50h1v1h-1zM31 20h1v1h-1zM33 20h1v1h-1zM34 20h1v1h-1zM41 0h1v1h-1zM41 19h1v1h-1zM41 28h1v2h-1zM41 31h1v4h-1zM41 36h1v3h-1zM41 40h1v1h-1zM42 20h1v1h-1zM88 50h1v1h-1z"/>
<path fill="#fca9a1" d="M0 0h1v3h-1zM0 4h1v1h-1zM0 17h1v3h-1zM0 23h1v1h-1zM0 27h1v12h-1zM0 40h1v1h-1zM0 50h1v1h-1zM1 0h1v3h-1zM1 4h1v1h-1zM1 19h1v2h-1zM1 27h1v1h-1zM1 34h1v1h-1zM1 37h1v2h-1zM1 50h1v1h-1zM1 53h1v1h-1zM2 0h1v5h-1zM2 17h1v3h-1zM2 21h1v2h-1zM2 25h1v1h-1zM2 28h1v11h-1zM2 40h1v1h-1zM2 48h1v1h-1zM2 50h1v1h-1zM3 0h1v2h-1zM3 3h1v1h-1zM3 17h1v4h-1zM3 25h1v14h-1zM3 40h1v13h-1zM4 4h1v1h-1zM5 0h1v2h-1zM5 3h1v1h-1zM5 17h1v4h-1zM5 25h1v1h-1zM5 27h1v14h-1zM5 50h1v1h-1zM6 0h1v1h-1zM6 4h1v1h-1zM6 17h1v3h-1zM6 26h1v13h-1zM6 40h1v2h-1zM6 43h1v5h-1zM6 49h1v4h-1zM7 0h1v1h-1zM7 2h1v1h-1zM7 17h1v3h-1zM7 21h1v2h-1zM7 28h1v13h-1zM7 50h1v1h-1zM7 53h1v1h-1zM8 0h1v3h-1zM8 17h1v3h-1zM8 25h1v1h-1zM8 28h1v11h-1zM8 40h1v1h-1zM8 50h1v1h-1zM9 27h1v1h-1zM9 50h1v1h-1zM10 0h1v3h-1zM10 17h1v5h-1zM10 27h1v23h-1zM10 51h1v2h-1zM11 50h1v1h-1zM12 0h1v3h-1zM12 17h1v4h-1zM12 26h1v13h-1zM12 40h1v2h-1zM12 43h1v2h-1zM12 46h1v2h-1zM12 49h1v4h-1zM13 4h1v1h-1zM13 20h1v3h-1zM13 53h1v1h-1zM17 0h1v2h-1zM17 4h1v1h-1zM17 17h1v4h-1zM17 27h1v14h-1zM17 50h1v1h-1zM19 20h1v1h-1zM22 4h1v1h-1zM22 18h1v2h-1zM22 27h1v2h-1zM22 30h1v2h-1zM22 34h1v3h-1zM22 38h1v1h-1zM22 40h1v1h-1zM22 50h1v1h-1zM23 23h1v1h-1zM24 3h1v2h-1zM24 19h1v2h-1zM24 27h1v2h-1zM24 30h1v2h-1zM24 34h1v3h-1zM24 38h1v1h-1zM24 40h1v1h-1zM24 50h1v1h-1zM24 53h1v1h-1zM25 0h1v2h-1zM25 17h1v4h-1zM25 26h1v13h-1zM25 40h1v5h-1zM25 46h1v2h-1zM25 49h1v5h-1zM26 4h1v1h-1zM26 20h1v1h-1zM26 50h1v1h-1zM28 50h1v1h-1zM29 20h1v1h-1zM31 0h1v3h-1zM31 4h1v1h-1zM31 17h1v3h-1zM31 21h1v4h-1zM31 27h1v14h-1zM31 50h1v1h-1zM31 53h1v1h-1zM33 5h1v12h-1zM33 25h1v1h-1zM33 40h1v1h-1zM33 50h1v1h-1zM34 4h1v1h-1zM34 21h1v2h-1zM34 27h1v1h-1zM34 39h1v1h-1zM34 45h1v1h-1zM34 49h1v2h-1zM34 53h1v1h-1zM35 5h1v12h-1zM35 20h1v1h-1zM35 50h1v1h-1zM36 0h1v2h-1zM36 4h1v1h-1zM36 17h1v3h-1zM36 26h1v1h-1zM36 28h1v9h-1zM36 38h1v1h-1zM36 40h1v1h-1zM36 43h1v2h-1zM36 47h1v1h-1zM36 49h1v1h-1zM36 51h1v2h-1zM37 3h1v1h-1zM37 18h1v3h-1zM37 27h1v2h-1zM37 31h1v1h-1zM37 34h1v3h-1zM37 38h1v1h-1zM37 40h1v1h-1zM37 50h1v1h-1zM38 0h1v1h-1zM38 4h1v1h-1zM38 23h1v1h-1zM38 25h1v1h-1zM38 27h1v2h-1zM38 31h1v1h-1zM38 33h1v1h-1zM38 37h1v2h-1zM38 40h1v1h-1zM38 47h1v1h-1zM38 50h1v4h-1zM40 20h1v3h-1zM41 1h1v2h-1zM41 4h1v1h-1zM41 17h1v2h-1zM41 20h1v3h-1zM41 27h1v1h-1zM41 30h1v1h-1zM41 35h1v1h-1zM41 39h1v1h-1zM41 50h1v1h-1zM42 4h1v1h-1zM42 26h1v1h-1zM42 39h1v1h-1zM42 41h1v4h-1zM42 52h1v2h-1zM45 39h1v1h-1zM45 50h1v1h-1zM48 20h1v1h-1zM48 27h1v1h-1zM49 20h1v1h-1zM52 20h1v1h-1zM52 27h1v1h-1zM52 50h1v1h-1zM54 50h1v1h-1zM55 0h1v2h-1zM55 17h1v3h-1zM55 28h1v11h-1zM55 40h1v1h-1zM56 20h1v1h-1zM56 23h1v1h-1zM56 27h1v1h-1zM56 50h1v1h-1zM56 53h1v1h-1zM57 0h1v2h-1zM57 17h1v3h-1zM57 27h1v12h-1zM57 40h1v1h-1zM57 53h1v1h-1zM59 19h1v1h-1zM59 27h1v2h-1zM59 30h1v2h-1zM59 34h1v3h-1zM59 38h1v1h-1zM59 40h1v1h-1zM59 53h1v1h-1zM60 20h1v1h-1zM60 26h1v2h-1zM60 41h1v1h-1zM60 43h1v4h-1zM60 48h1v3h-1zM60 52h1v1h-1zM62 5h1v12h-1zM63 53h1v1h-1zM64 50h1v1h-1zM66 20h1v1h-1zM72 27h1v1h-1zM75 4h1v1h-1zM75 20h1v1h-1zM75 50h1v1h-1zM76 20h1v1h-1zM76 27h1v1h-1zM76 50h1v1h-1zM77 0h1v2h-1zM77 17h1v4h-1zM77 25h1v1h-1zM77 27h1v12h-1zM77 40h1v1h-1zM77 50h1v1h-1zM77 53h1v1h-1zM79 0h1v2h-1zM79 17h1v1h-1zM79 21h1v2h-1zM79 26h1v1h-1zM79 29h1v1h-1zM79 32h1v2h-1zM79 37h1v1h-1zM79 42h1v6h-1zM79 49h1v2h-1zM79 53h1v1h-1zM80 19h1v1h-1zM80 28h1v1h-1zM80 30h1v2h-1zM80 34h1v3h-1zM80 38h1v1h-1zM80 40h1v1h-1zM80 53h1v1h-1zM81 53h1v1h-1zM86 0h1v3h-1zM86 17h1v3h-1zM86 28h1v11h-1zM86 40h1v1h-1zM86 50h1v1h-1zM86 53h1v1h-1zM88 4h1v1h-1zM88 53h1v1h-1z"/>
<path fill="#fb8074" d="M0 5h1v12h-1zM0 26h1v1h-1zM0 41h1v9h-1zM0 51h1v2h-1zM1 17h1v2h-1zM1 21h1v2h-1zM1 25h1v1h-1zM1 28h1v6h-1zM1 35h1v2h-1zM1 40h1v1h-1zM1 48h1v1h-1zM2 23h1v2h-1zM3 2h1v1h-1zM3 4h1v7h-1zM3 12h1v1h-1zM3 14h1v3h-1zM4 0h1v2h-1zM4 3h1v1h-1zM4 17h1v3h-1zM4 21h1v2h-1zM4 25h1v1h-1zM4 27h1v12h-1zM4 40h1v13h-1zM5 4h1v1h-1zM5 23h1v2h-1zM5 26h1v1h-1zM5 43h1v5h-1zM5 49h1v1h-1zM5 52h1v1h-1zM6 1h1v3h-1zM6 20h1v1h-1zM6 23h1v2h-1zM6 42h1v1h-1zM7 3h1v1h-1zM7 20h1v1h-1zM7 25h1v1h-1zM8 3h1v2h-1zM8 20h1v1h-1zM8 24h1v1h-1zM8 26h1v2h-1zM8 41h1v1h-1zM8 43h1v4h-1zM8 48h1v2h-1zM8 52h1v1h-1zM9 0h1v2h-1zM9 3h1v1h-1zM9 5h1v15h-1zM9 21h1v2h-1zM9 28h1v11h-1zM9 40h1v1h-1zM10 4h1v1h-1zM10 23h1v1h-1zM10 26h1v1h-1zM11 27h1v1h-1zM12 3h1v2h-1zM12 23h1v1h-1zM12 42h1v1h-1zM12 45h1v1h-1zM13 0h1v1h-1zM13 2h1v2h-1zM13 5h1v15h-1zM13 26h1v13h-1zM13 40h1v4h-1zM13 50h1v1h-1zM13 52h1v1h-1zM14 20h1v1h-1zM17 2h1v1h-1zM17 23h1v2h-1zM17 26h1v1h-1zM17 41h1v1h-1zM17 43h1v2h-1zM17 46h1v1h-1zM17 48h1v2h-1zM19 0h1v3h-1zM19 17h1v3h-1zM19 28h1v9h-1zM19 38h1v1h-1zM19 40h1v1h-1zM21 23h1v1h-1zM22 20h1v1h-1zM22 23h1v1h-1zM24 23h1v1h-1zM24 26h1v1h-1zM24 41h1v7h-1zM24 49h1v1h-1zM24 52h1v1h-1zM25 23h1v1h-1zM26 0h1v3h-1zM26 17h1v3h-1zM26 23h1v1h-1zM26 26h1v1h-1zM26 28h1v9h-1zM26 38h1v1h-1zM26 40h1v1h-1zM27 0h1v2h-1zM27 4h1v1h-1zM27 17h1v4h-1zM27 27h1v12h-1zM27 40h1v1h-1zM27 53h1v1h-1zM28 0h1v3h-1zM28 4h1v1h-1zM28 17h1v4h-1zM28 23h1v1h-1zM28 27h1v12h-1zM28 40h1v1h-1zM29 4h1v1h-1zM29 27h1v1h-1zM29 50h1v1h-1zM30 23h1v1h-1zM30 27h1v1h-1zM30 39h1v1h-1zM30 50h1v1h-1zM30 53h1v1h-1zM31 3h1v1h-1zM31 5h1v12h-1zM31 25h1v1h-1zM31 42h1v1h-1zM31 45h1v1h-1zM31 48h1v2h-1zM31 51h1v1h-1zM32 20h1v1h-1zM32 50h1v1h-1zM33 0h1v3h-1zM33 4h1v1h-1zM33 17h1v3h-1zM33 26h1v1h-1zM33 28h1v11h-1zM33 41h1v7h-1zM33 49h1v1h-1zM33 51h1v2h-1zM34 0h1v2h-1zM34 5h1v15h-1zM34 26h1v1h-1zM34 28h1v11h-1zM34 40h1v2h-1zM34 43h1v2h-1zM34 46h1v2h-1zM34 52h1v1h-1zM35 3h1v2h-1zM35 26h1v2h-1zM37 23h1v1h-1zM37 26h1v1h-1zM37 41h1v6h-1zM37 48h1v1h-1zM37 52h1v1h-1zM38 1h1v3h-1zM38 5h1v18h-1zM38 29h1v2h-1zM38 32h1v1h-1zM38 34h1v3h-1zM38 39h1v1h-1zM39 0h1v2h-1zM39 4h1v1h-1zM39 17h1v1h-1zM39 19h1v2h-1zM39 23h1v1h-1zM39 27h1v5h-1zM39 34h1v5h-1zM39 40h1v1h-1zM40 50h1v1h-1zM41 23h1v1h-1zM41 25h1v1h-1zM41 53h1v1h-1zM42 0h1v2h-1zM42 5h1v6h-1zM42 12h1v1h-1zM42 14h1v6h-1zM42 23h1v1h-1zM42 25h1v1h-1zM42 27h1v12h-1zM42 40h1v1h-1zM42 46h1v2h-1zM42 49h1v3h-1zM45 4h1v13h-1zM45 20h1v1h-1zM45 24h1v1h-1zM45 27h1v1h-1zM47 23h1v1h-1zM47 27h1v1h-1zM47 50h1v1h-1zM48 4h1v1h-1zM48 19h1v1h-1zM48 28h1v1h-1zM48 30h1v2h-1zM48 34h1v3h-1zM48 38h1v1h-1zM48 40h1v1h-1zM48 45h1v1h-1zM48 48h1v3h-1zM49 27h1v1h-1zM49 50h1v1h-1zM51 20h1v1h-1zM51 27h1v1h-1zM53 4h1v1h-1zM53 20h1v1h-1zM53 23h1v1h-1zM53 41h1v1h-1zM53 43h1v2h-1zM53 46h1v1h-1zM53 48h1v2h-1zM54 4h1v1h-1zM54 20h1v1h-1zM54 23h1v1h-1zM54 26h1v2h-1zM55 20h1v1h-1zM55 27h1v1h-1zM55 50h1v1h-1zM56 4h1v1h-1zM57 4h1v1h-1zM57 20h1v1h-1zM59 3h1v2h-1zM59 20h1v1h-1zM59 23h1v1h-1zM59 26h1v1h-1zM59 41h1v1h-1zM59 43h1v4h-1zM59 48h1v3h-1zM59 52h1v1h-1zM60 4h1v1h-1zM60 23h1v1h-1zM60 42h1v1h-1zM62 20h1v1h-1zM62 23h1v1h-1zM63 4h1v1h-1zM63 20h1v1h-1zM63 23h1v1h-1zM63 27h1v1h-1zM64 20h1v1h-1zM64 27h1v1h-1zM65 50h1v1h-1zM66 0h1v5h-1zM66 17h1v3h-1zM66 25h1v2h-1zM66 28h1v13h-1zM66 50h1v1h-1zM67 4h1v1h-1zM67 50h1v1h-1zM71 3h1v2h-1zM72 20h1v1h-1zM72 23h1v1h-1zM72 26h1v1h-1zM72 41h1v1h-1zM72 43h1v2h-1zM72 46h1v1h-1zM72 48h1v2h-1zM73 27h1v1h-1zM73 50h1v1h-1zM75 23h1v1h-1zM75 27h1v1h-1zM76 0h1v2h-1zM76 21h1v2h-1zM76 40h1v1h-1zM76 53h1v1h-1zM77 5h1v12h-1zM77 21h1v2h-1zM77 26h1v1h-1zM77 41h1v2h-1zM77 45h1v1h-1zM77 52h1v1h-1zM79 4h1v1h-1zM79 23h1v1h-1zM79 27h1v1h-1zM79 41h1v1h-1zM79 51h1v2h-1zM80 20h1v1h-1zM80 39h1v1h-1zM81 3h1v2h-1zM81 20h1v1h-1zM81 23h1v1h-1zM81 26h1v2h-1zM81 41h1v4h-1zM81 50h1v1h-1zM81 52h1v1h-1zM82 20h1v1h-1zM82 50h1v1h-1zM83 4h1v1h-1zM83 20h1v1h-1zM83 23h1v1h-1zM83 27h1v1h-1zM84 23h1v1h-1zM84 50h1v1h-1zM86 4h1v1h-1zM86 20h1v1h-1zM86 23h1v1h-1zM86 26h1v2h-1zM86 41h1v1h-1zM86 43h1v2h-1zM86 46h1v1h-1zM86 48h1v2h-1zM87 0h1v4h-1zM87 18h1v3h-1zM87 23h1v1h-1zM87 26h1v1h-1zM87 28h1v11h-1zM87 40h1v2h-1zM87 44h1v1h-1zM87 50h1v1h-1zM87 52h1v1h-1zM88 3h1v1h-1zM88 19h1v2h-1zM88 23h1v1h-1zM88 26h1v3h-1zM88 30h1v2h-1zM88 34h1v3h-1zM88 38h1v1h-1zM88 40h1v8h-1zM88 49h1v1h-1zM88 51h1v2h-1zM91 4h1v1h-1zM91 20h1v1h-1z"/>
<path fill="#fa5a4b" d="M0 3h1v1h-1zM0 20h1v1h-1zM1 3h1v1h-1zM1 5h1v12h-1zM1 26h1v1h-1zM1 41h1v7h-1zM1 49h1v1h-1zM1 51h1v2h-1zM2 5h1v12h-1zM2 26h1v2h-1zM2 41h1v7h-1zM2 49h1v1h-1zM2 51h1v2h-1zM4 2h1v1h-1zM4 5h1v12h-1zM4 20h1v1h-1zM4 23h1v2h-1zM4 26h1v1h-1zM5 2h1v1h-1zM5 5h1v12h-1zM5 41h1v2h-1zM7 1h1v1h-1zM7 4h1v13h-1zM7 23h1v2h-1zM7 26h1v2h-1zM7 41h1v9h-1zM7 51h1v2h-1zM9 20h1v1h-1zM9 26h1v1h-1zM9 46h1v1h-1zM9 49h1v1h-1zM9 52h1v1h-1zM10 3h1v1h-1zM10 5h1v6h-1zM10 12h1v1h-1zM10 14h1v3h-1zM11 3h1v2h-1zM11 20h1v1h-1zM13 23h1v2h-1zM13 44h1v4h-1zM13 49h1v1h-1zM13 51h1v1h-1zM17 5h1v12h-1zM17 42h1v1h-1zM17 52h1v1h-1zM25 4h1v1h-1zM26 3h1v1h-1zM27 5h1v12h-1zM27 23h1v1h-1zM27 26h1v1h-1zM27 41h1v3h-1zM27 50h1v1h-1zM27 52h1v1h-1zM28 3h1v1h-1zM28 26h1v1h-1zM28 41h1v1h-1zM28 45h1v2h-1zM28 49h1v1h-1zM28 52h1v1h-1zM29 0h1v2h-1zM29 3h1v1h-1zM29 17h1v2h-1zM29 21h1v2h-1zM29 25h1v2h-1zM29 28h1v13h-1zM29 53h1v1h-1zM30 0h1v3h-1zM30 17h1v3h-1zM30 28h1v11h-1zM30 40h1v1h-1zM31 26h1v1h-1zM31 41h1v1h-1zM31 43h1v2h-1zM31 46h1v2h-1zM31 52h1v1h-1zM32 4h1v1h-1zM32 23h1v1h-1zM32 26h1v2h-1zM32 41h1v4h-1zM32 52h1v1h-1zM33 3h1v1h-1zM33 24h1v1h-1zM33 27h1v1h-1zM33 53h1v1h-1zM34 2h1v1h-1zM34 24h1v1h-1zM35 23h1v1h-1zM38 26h1v1h-1zM38 41h1v1h-1zM38 43h1v2h-1zM38 46h1v1h-1zM38 48h1v2h-1zM39 3h1v1h-1zM39 18h1v1h-1zM39 26h1v1h-1zM39 32h1v2h-1zM39 41h1v1h-1zM39 43h1v2h-1zM39 46h1v1h-1zM39 48h1v2h-1zM39 52h1v2h-1zM41 3h1v1h-1zM41 5h1v12h-1zM41 26h1v1h-1zM41 41h1v3h-1zM41 49h1v1h-1zM41 52h1v1h-1zM42 3h1v1h-1zM42 24h1v1h-1zM45 23h1v1h-1zM46 2h1v1h-1zM46 21h1v1h-1zM48 3h1v1h-1zM48 23h1v1h-1zM48 26h1v1h-1zM48 41h1v1h-1zM48 43h1v2h-1zM48 46h1v2h-1zM48 52h1v1h-1zM49 4h1v1h-1zM49 26h1v1h-1zM51 23h1v1h-1zM51 50h1v1h-1zM53 3h1v1h-1zM53 26h1v2h-1zM53 50h1v1h-1zM54 3h1v1h-1zM55 3h1v2h-1zM56 26h1v1h-1zM57 3h1v1h-1zM57 23h1v1h-1zM57 26h1v1h-1zM57 41h1v1h-1zM57 44h1v1h-1zM57 50h1v1h-1zM57 52h1v1h-1zM60 3h1v1h-1zM63 26h1v1h-1zM63 50h1v1h-1zM65 3h1v1h-1zM65 23h1v1h-1zM65 27h1v1h-1zM66 23h1v1h-1zM66 27h1v1h-1zM67 23h1v1h-1zM67 27h1v1h-1zM72 50h1v1h-1zM73 23h1v1h-1zM75 26h1v1h-1zM76 3h1v2h-1zM76 23h1v1h-1zM76 26h1v1h-1zM77 3h1v2h-1zM77 23h1v1h-1zM77 43h1v2h-1zM77 46h1v1h-1zM77 48h1v2h-1zM79 18h1v3h-1zM79 28h1v1h-1zM79 30h1v2h-1zM79 34h1v3h-1zM79 38h1v1h-1zM79 40h1v1h-1zM80 3h1v1h-1zM80 26h1v1h-1zM80 50h1v1h-1zM82 4h1v1h-1zM82 27h1v1h-1zM86 3h1v1h-1zM87 4h1v1h-1zM87 27h1v1h-1zM91 3h1v1h-1zM91 19h1v1h-1zM91 23h1v1h-1zM91 28h1v1h-1zM91 30h1v2h-1zM91 34h1v3h-1zM91 38h1v1h-1zM91 40h1v1h-1zM92 0h1v3h-1zM92 4h1v1h-1zM92 17h1v4h-1zM92 24h1v3h-1zM92 28h1v19h-1zM92 48h1v3h-1zM92 52h1v1h-1zM93 0h1v3h-1zM93 4h1v1h-1zM93 17h1v4h-1zM93 23h1v4h-1zM93 28h1v19h-1zM93 48h1v3h-1zM93 52h1v2h-1z"/>
<path fill="#f93c2d" d="M1 23h1v1h-1zM2 20h1v1h-1zM3 23h1v1h-1zM8 23h1v1h-1zM9 23h1v1h-1zM19 50h1v1h-1zM26 27h1v1h-1zM33 23h1v1h-1zM34 23h1v1h-1zM39 50h1v1h-1zM49 3h1v1h-1zM49 23h1v1h-1zM56 3h1v1h-1zM63 3h1v1h-1zM75 3h1v1h-1zM76 41h1v9h-1zM76 51h1v2h-1zM79 3h1v1h-1zM80 4h1v1h-1zM80 23h1v1h-1zM80 27h1v1h-1zM82 3h1v1h-1zM82 23h1v1h-1zM92 23h1v1h-1zM92 53h1v1h-1z"/>
</g>
<g transform="translate(2007.4,0) scale(1.040,1)" style="font-size:18.7px"><text x="0" y="1570.2">arlR</text><text x="0" y="1587.8">CpxR</text><text x="0" y="1605.3">smeR</text><text x="0" y="1622.9">PIB</text><text x="0" y="1640.5">rpld</text><text x="0" y="1658.0">ErmT</text><text x="0" y="1675.6">Erm(48)</text><text x="0" y="1693.2">Erm(44)v</text><text x="0" y="1710.8">ErmG</text><text x="0" y="1728.3">ErmC</text><text x="0" y="1745.9">ErmY</text><text x="0" y="1763.5">Erm(33)</text><text x="0" y="1781.0">Erm(43)</text><text x="0" y="1798.6">ErmA</text><text x="0" y="1816.2">ErmB</text><text x="0" y="1833.8">erm(45)</text><text x="0" y="1851.3">Erm(47)</text><text x="0" y="1868.9">PhoP</text><text x="0" y="1886.5">mtrA</text><text x="0" y="1904.0">kdpE</text><text x="0" y="1921.6">rpsL</text><text x="0" y="1939.2">dfrK</text><text x="0" y="1956.7">dfrD</text><text x="0" y="1974.3">EF−Tu</text><text x="0" y="1991.9">PtsI</text><text x="0" y="2009.5">murA</text><text x="0" y="2027.0">fusA</text><text x="0" y="2044.6">fusE</text><text x="0" y="2062.2">vanRG</text><text x="0" y="2079.7">vanRC</text><text x="0" y="2097.3">vanRM</text><text x="0" y="2114.9">vanRD</text><text x="0" y="2132.4">vanRL</text><text x="0" y="2150.0">vanRI</text><text x="0" y="2167.6">vanRB</text><text x="0" y="2185.2">vanRF</text><text x="0" y="2202.7">vanRA</text><text x="0" y="2220.3">vanRN</text><text x="0" y="2237.9">vanRE</text><text x="0" y="2255.4">liaR</text><text x="0" y="2273.0">basR</text><text x="0" y="2290.6">tetB(P)</text><text x="0" y="2308.1">tetT</text><text x="0" y="2325.7">tet32</text><text x="0" y="2343.3">tet(44)</text><text x="0" y="2360.8">tetO</text><text x="0" y="2378.4">tetW</text><text x="0" y="2396.0">tetS</text><text x="0" y="2413.6">otr(A)</text><text x="0" y="2431.1">tet(W/N/W)</text><text x="0" y="2448.7">rpsJ</text><text x="0" y="2466.3">tetM</text><text x="0" y="2483.8">tet36</text><text x="0" y="2501.4">fabG</text></g>
<g style="font-size:19px"><text transform="translate(63.1,2564.5) rotate(-90)">P1</text><text transform="translate(83.8,2564.5) rotate(-90)">P2</text><text transform="translate(104.6,2564.5) rotate(-90)">P3</text><text transform="translate(125.3,2564.5) rotate(-90)">P4</text><text transform="translate(146.0,2564.5) rotate(-90)">P5</text><text transform="translate(166.8,2564.5) rotate(-90)">P6</text><text transform="translate(187.5,2564.5) rotate(-90)">P7</text><text transform="translate(208.3,2564.5) rotate(-90)">P8</text><text transform="translate(229.0,2564.5) rotate(-90)">P9</text><text transform="translate(249.8,2564.5) rotate(-90)">P10</text><text transform="translate(270.5,2564.5) rotate(-90)">P11</text><text transform="translate(291.2,2564.5) rotate(-90)">P12</text><text transform="translate(312.0,2564.5) rotate(-90)">P13</text><text transform="translate(332.7,2564.5) rotate(-90)">P14</text><text transform="translate(353.5,2564.5) rotate(-90)">P15</text><text transform="translate(374.2,2564.5) rotate(-90)">P16</text><text transform="translate(395.0,2564.5) rotate(-90)">P17</text><text transform="translate(415.7,2564.5) rotate(-90)">P18</text><text transform="translate(436.4,2564.5) rotate(-90)">P19</text><text transform="translate(457.2,2564.5) rotate(-90)">P20</text><text transform="translate(477.9,2564.5) rotate(-90)">P21</text><text transform="translate(498.7,2564.5) rotate(-90)">P22</text><text transform="translate(519.4,2564.5) rotate(-90)">P23</text><text transform="translate(540.1,2564.5) rotate(-90)">P24</text><text transform="translate(560.9,2564.5) rotate(-90)">P25</text><text transform="translate(581.6,2564.5) rotate(-90)">P26</text><text transform="translate(602.4,2564.5) rotate(-90)">P27</text><text transform="translate(623.1,2564.5) rotate(-90)">P28</text><text transform="translate(643.9,2564.5) rotate(-90)">P29</text><text transform="translate(664.6,2564.5) rotate(-90)">P30</text><text transform="translate(685.3,2564.5) rotate(-90)">P31</text><text transform="translate(706.1,2564.5) rotate(-90)">P32</text><text transform="translate(726.8,2564.5) rotate(-90)">P33</text><text transform="translate(747.6,2564.5) rotate(-90)">P34</text><text transform="translate(768.3,2564.5) rotate(-90)">P35</text><text transform="translate(789.1,2564.5) rotate(-90)">P36</text><text transform="translate(809.8,2564.5) rotate(-90)">P37</text><text transform="translate(830.5,2564.5) rotate(-90)">P38</text><text transform="translate(851.3,2564.5) rotate(-90)">P39</text><text transform="translate(872.0,2564.5) rotate(-90)">P40</text><text transform="translate(892.8,2564.5) rotate(-90)">P41</text><text transform="translate(913.5,2564.5) rotate(-90)">P42</text><text transform="translate(934.3,2564.5) rotate(-90)">P43</text><text transform="translate(955.0,2564.5) rotate(-90)">P44</text><text transform="translate(975.7,2564.5) rotate(-90)">P45</text><text transform="translate(996.5,2564.5) rotate(-90)">P46</text><text transform="translate(1017.2,2564.5) rotate(-90)">P47</text><text transform="translate(1038.0,2564.5) rotate(-90)">C1</text><text transform="translate(1058.7,2564.5) rotate(-90)">C2</text><text transform="translate(1079.5,2564.5) rotate(-90)">C3</text><text transform="translate(1100.2,2564.5) rotate(-90)">C4</text><text transform="translate(1120.9,2564.5) rotate(-90)">C5</text><text transform="translate(1141.7,2564.5) rotate(-90)">C6</text><text transform="translate(1162.4,2564.5) rotate(-90)">C7</text><text transform="translate(1183.2,2564.5) rotate(-90)">C8</text><text transform="translate(1203.9,2564.5) rotate(-90)">C9</text><text transform="translate(1224.7,2564.5) rotate(-90)">C10</text><text transform="translate(1245.4,2564.5) rotate(-90)">C11</text><text transform="translate(1266.1,2564.5) rotate(-90)">C12</text><text transform="translate(1286.9,2564.5) rotate(-90)">C13</text><text transform="translate(1307.6,2564.5) rotate(-90)">C14</text><text transform="translate(1328.4,2564.5) rotate(-90)">C15</text><text transform="translate(1349.1,2564.5) rotate(-90)">C16</text><text transform="translate(1369.9,2564.5) rotate(-90)">C17</text><text transform="translate(1390.6,2564.5) rotate(-90)">C18</text><text transform="translate(1411.3,2564.5) rotate(-90)">C19</text><text transform="translate(1432.1,2564.5) rotate(-90)">C20</text><text transform="translate(1452.8,2564.5) rotate(-90)">C21</text><text transform="translate(1473.6,2564.5) rotate(-90)">C22</text><text transform="translate(1494.3,2564.5) rotate(-90)">C23</text><text transform="translate(1515.0,2564.5) rotate(-90)">C24</text><text transform="translate(1535.8,2564.5) rotate(-90)">C25</text><text transform="translate(1556.5,2564.5) rotate(-90)">C26</text><text transform="translate(1577.3,2564.5) rotate(-90)">C27</text><text transform="translate(1598.0,2564.5) rotate(-90)">C28</text><text transform="translate(1618.8,2564.5) rotate(-90)">C29</text><text transform="translate(1639.5,2564.5) rotate(-90)">C30</text><text transform="translate(1660.2,2564.5) rotate(-90)">C31</text><text transform="translate(1681.0,2564.5) rotate(-90)">C32</text><text transform="translate(1701.7,2564.5) rotate(-90)">C33</text><text transform="translate(1722.5,2564.5) rotate(-90)">C34</text><text transform="translate(1743.2,2564.5) rotate(-90)">C35</text><text transform="translate(1764.0,2564.5) rotate(-90)">C36</text><text transform="translate(1784.7,2564.5) rotate(-90)">C37</text><text transform="translate(1805.4,2564.5) rotate(-90)">C38</text><text transform="translate(1826.2,2564.5) rotate(-90)">C39</text><text transform="translate(1846.9,2564.5) rotate(-90)">C40</text><text transform="translate(1867.7,2564.5) rotate(-90)">C41</text><text transform="translate(1888.4,2564.5) rotate(-90)">C42</text><text transform="translate(1909.2,2564.5) rotate(-90)">C43</text><text transform="translate(1929.9,2564.5) rotate(-90)">C44</text><text transform="translate(1950.6,2564.5) rotate(-90)">C45</text><text transform="translate(1971.4,2564.5) rotate(-90)">C46</text><text transform="translate(1992.1,2564.5) rotate(-90)">C47</text></g>
<path fill="none" stroke="#141010" stroke-width="2.7" d="M2087.6 1560.3H2155.5V1881.8H2087.6M2087.6 1899.6H2155.5V1918.7H2087.6M2087.6 1932.6H2155.5V1953.0H2087.6M2087.6 1968.2H2155.5M2087.6 1983.5H2155.5V2005.0H2087.6M2087.6 2021.7H2155.5V2042.4H2087.6M2087.6 2056.6H2155.5V2232.8H2087.6M2087.6 2247.0H2155.5V2267.8H2087.6M2087.6 2281.5H2155.5V2477.6H2087.6M2087.6 2497.0H2155.5"/>
<g style="font-size:34px;letter-spacing:0.5px"><text x="2166.7" y="1706.5">Multidrug</text><text x="2166.7" y="1917.4">Aminoglycoside</text><text x="2166.7" y="1950.4">Diaminopyrimidine</text><text x="2166.7" y="1978.4">Elfamycin</text><text x="2166.7" y="2010.1">Fosfomycin</text><text x="2166.7" y="2043.7">Fusidic acid</text><text x="2166.7" y="2153.8">Glycopeptide</text><text x="2166.7" y="2267.8">Peptide antibiotic</text><text x="2166.7" y="2392.1">Tetracycline</text><text x="2166.7" y="2499.6">Triclosan</text></g>
</svg></body></html>
